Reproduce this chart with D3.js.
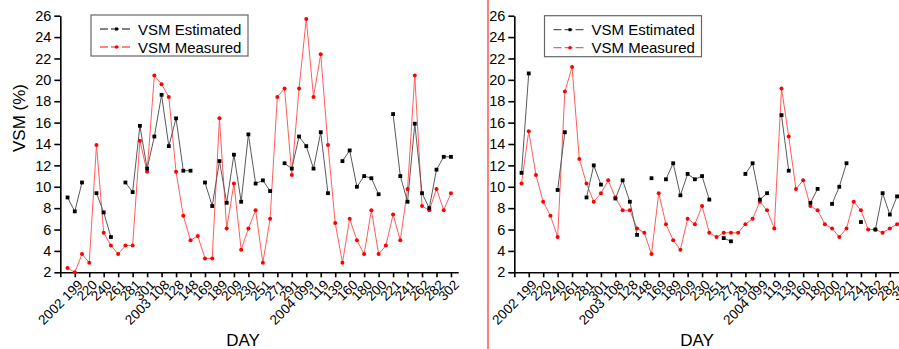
<!DOCTYPE html>
<html>
<head>
<meta charset="utf-8">
<script src="https://cdn.jsdelivr.net/npm/d3@7"></script>
<style>
body { margin: 0; background: #fff; }
svg text { font-family: Arial, "Liberation Sans", sans-serif; fill: #000; }
</style>
</head>
<body>
<div id="chartArea"></div>
<script>
// tick labels (every other sample, starting at sample 1)
const dayLabels = ["2002 199", "220", "240", "261", "281", "301", "2003 108", "128", "148",
  "169", "189", "209", "230", "251", "271", "291", "2004 099", "119", "139", "160", "180",
  "200", "221", "241", "262", "282", "302"];

const yTicks = [2, 4, 6, 8, 10, 12, 14, 16, 18, 20, 22, 24, 26];

// left panel
const leftEstimated = [9.0, 7.7, 10.4, null, 9.4, 7.6, 5.3, null, 10.4, 9.5, 15.7, 11.7, 14.7, 18.6,
  13.8, 16.4, 11.5, 11.5, null, 10.4, 8.2, 12.4, 8.5, 13.0, 8.6, 14.9, 10.3, 10.6, 9.6, null,
  12.2, 11.7, 14.7, 13.8, 11.7, 15.1, 9.4, null, 12.4, 13.4, 10.0, 11.0, 10.8, 9.3, null,
  16.8, 11.0, 8.6, 15.9, 9.4, 8.0, 11.6, 12.8, 12.8];
const leftMeasured = [2.4, 2.0, 3.7, 2.9, 13.9, 5.7, 4.5, 3.7, 4.5, 4.5, 14.3, 11.4, 20.4, 19.6,
  18.4, 11.4, 7.3, 5.0, 5.4, 3.3, 3.3, 16.4, 6.1, 10.3, 4.1, 6.1, 7.8, 2.9, 7.0, 18.4,
  19.2, 11.1, 19.2, 25.7, 18.4, 22.4, 13.9, 6.6, 2.9, 7.0, 5.0, 3.7, 7.8, 3.7, 4.5,
  7.4, 5.0, 9.8, 20.4, 8.2, 7.8, 9.8, 7.8, 9.4];

// right panel
const rightEstimated = [11.3, 20.6, null, null, null, 9.7, 15.1, null, null, 9.0, 12.0, 10.2, null,
  8.9, 10.6, 8.6, 5.5, null, 10.8, null, 10.7, 12.2, 9.2, 11.2, 10.7, 11.0, 8.8, null, 5.2,
  4.9, null, 11.2, 12.2, 8.8, 9.4, null, 16.7, 11.5, null, null, 8.5, 9.8, null, 8.4, 10.0,
  12.2, null, 6.7, null, 6.0, 9.4, 7.4, 9.1, 8.5];
const rightMeasured = [10.3, 15.2, 11.1, 8.6, 7.3, 5.3, 18.9, 21.2, 12.6, 10.3, 8.6, 9.4, 10.6,
  9.0, 7.8, 7.8, 6.1, 5.7, 3.7, 9.4, 6.5, 5.0, 4.1, 7.0, 6.5, 8.2, 5.7, 5.3, 5.7,
  5.7, 5.7, 6.5, 7.0, 8.6, 7.8, 6.1, 19.2, 14.7, 9.8, 10.6, 8.2, 7.8, 6.5, 6.1, 5.3,
  6.1, 8.6, 7.8, 6.0, 6.0, 5.7, 6.1, 6.5, 6.8];

const width = 899, height = 349;
const estColor = "#5a5a5a", measColor = "#ff5c5c";

const svg = d3.select("#chartArea")
  .append("svg")
  .attr("width", width)
  .attr("height", height);

const y = d3.scaleLinear().domain([2, 26]).range([272.3, 15.7]);

function drawPanel(p) {
  const g = svg.append("g");
  const x = d3.scaleLinear().domain([-1, 54]).range([p.left, p.right]);

  // y axis
  const yAxis = g.append("g")
    .attr("transform", `translate(${p.left},0)`)
    .call(d3.axisLeft(y).tickValues(yTicks).tickSize(6).tickSizeOuter(0).tickPadding(3));
  yAxis.selectAll("text").style("font-size", "14.5px");

  // x axis, ticks on odd samples
  const tickIdx = d3.range(-1, 54, 2);
  const xAxis = g.append("g")
    .attr("transform", `translate(0,${y(2)})`)
    .call(d3.axisBottom(x).tickValues(tickIdx).tickSize(5).tickSizeOuter(0)
      .tickFormat(d => d < 0 ? "" : dayLabels[(d - 1) / 2]));
  xAxis.selectAll("text")
    .style("font-size", "13.5px")
    .attr("text-anchor", "end")
    .attr("x", 0).attr("y", 0).attr("dy", "0.35em")
    .attr("transform", "translate(5,10) rotate(-45)");

  g.selectAll(".domain, .tick line").attr("stroke", "#000").attr("stroke-width", 1.6);

  // lines
  const line = d3.line()
    .defined(d => d[1] != null)
    .x(d => x(d[0]))
    .y(d => y(d[1]));

  const meas = p.measured.map((v, i) => [i, v]);
  const est = p.estimated.map((v, i) => [i, v]);

  g.append("path").datum(meas)
    .attr("d", line).attr("fill", "none")
    .attr("stroke", measColor).attr("stroke-width", 1);
  g.append("path").datum(est)
    .attr("d", line).attr("fill", "none")
    .attr("stroke", estColor).attr("stroke-width", 1);

  g.selectAll(".mdot").data(meas.filter(d => d[1] != null))
    .enter().append("circle")
    .attr("cx", d => x(d[0])).attr("cy", d => y(d[1]))
    .attr("r", 2).attr("fill", "#ff0000");
  g.selectAll(".edot").data(est.filter(d => d[1] != null))
    .enter().append("rect")
    .attr("x", d => x(d[0]) - 1.9).attr("y", d => y(d[1]) - 1.9)
    .attr("width", 3.8).attr("height", 3.8).attr("fill", "#000");

  // legend
  const lg = g.append("g").attr("transform", `translate(${p.legendX},${p.legendY})`);
  lg.append("rect")
    .attr("width", 157).attr("height", 41)
    .attr("fill", "#fff").attr("stroke", "#666").attr("stroke-width", 1.2);
  const items = [["VSM Estimated", estColor, "sq"], ["VSM Measured", measColor, "dot"]];
  items.forEach((it, k) => {
    const cy = 14 + k * 18;
    lg.append("line")
      .attr("x1", 9).attr("x2", 42).attr("y1", cy).attr("y2", cy)
      .attr("stroke", it[1]).attr("stroke-width", 1.3).attr("stroke-dasharray", "8,3");
    if (it[2] === "sq") {
      lg.append("rect").attr("x", 24).attr("y", cy - 1.5).attr("width", 3).attr("height", 3).attr("fill", "#000");
    } else {
      lg.append("circle").attr("cx", 25.5).attr("cy", cy).attr("r", 1.8).attr("fill", "#ff0000");
    }
    lg.append("text")
      .attr("x", 47).attr("y", cy + 5.5)
      .style("font-size", "15px")
      .text(it[0]);
  });

  // axis titles
  g.append("text")
    .attr("x", p.dayX).attr("y", 346)
    .attr("text-anchor", "middle")
    .style("font-size", "17px")
    .text("DAY");
}

drawPanel({ left: 60.3, right: 458.2, estimated: leftEstimated, measured: leftMeasured,
  legendX: 91, legendY: 15, dayX: 243 });
drawPanel({ left: 514.3, right: 911.5, estimated: rightEstimated, measured: rightMeasured,
  legendX: 544.5, legendY: 15.7, dayX: 697 });

svg.append("text")
  .attr("text-anchor", "middle")
  .attr("transform", "translate(25,118) rotate(-90)")
  .style("font-size", "17px")
  .text("VSM (%)");

// red divider between the two panels
svg.append("line")
  .attr("x1", 488).attr("x2", 488).attr("y1", 0).attr("y2", height)
  .attr("stroke", "#ff0000").attr("stroke-width", 1);
</script>
</body>
</html>
